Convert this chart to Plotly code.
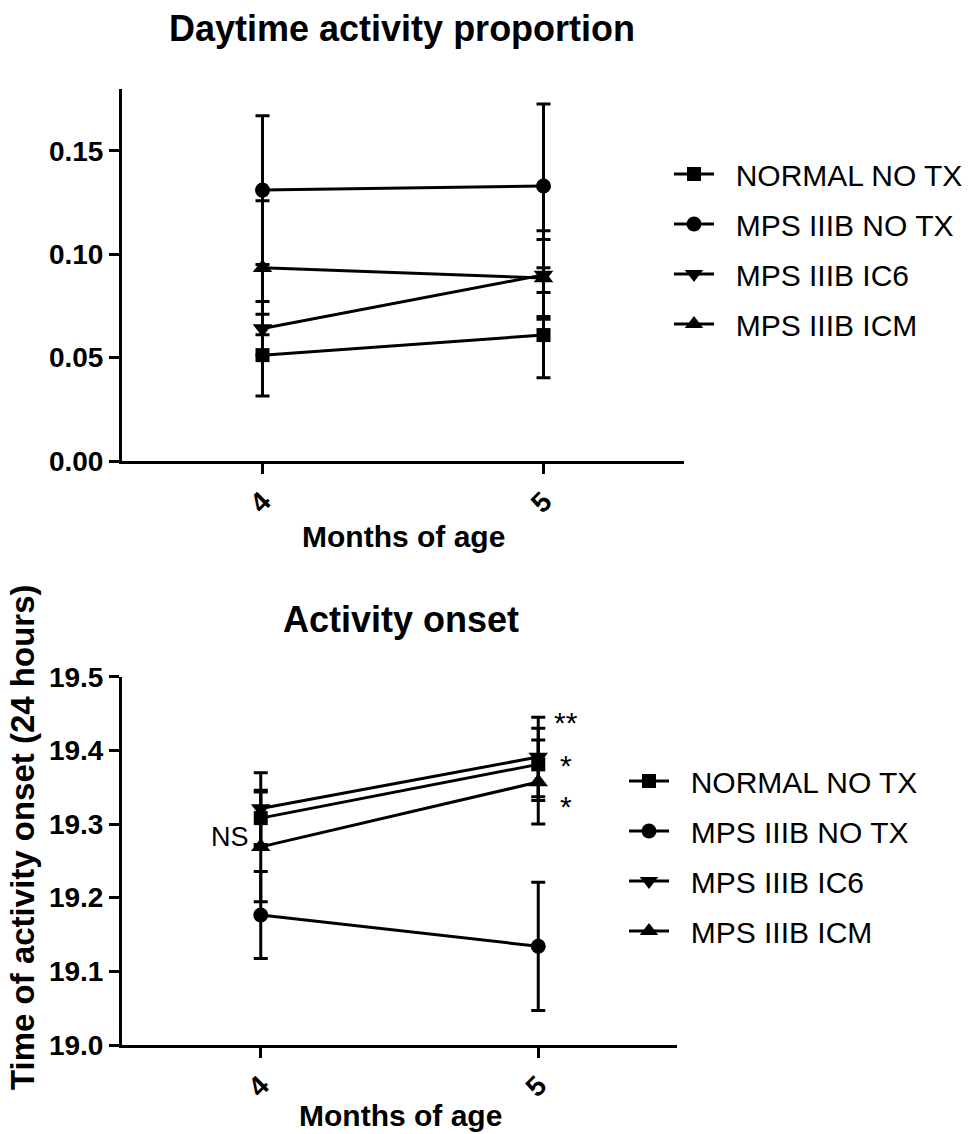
import plotly.graph_objects as go

W, H = 972, 1134

months = [4, 5]
series_names = ["NORMAL NO TX", "MPS IIIB NO TX", "MPS IIIB IC6", "MPS IIIB ICM"]
symbols = ["square", "circle", "triangle-down", "triangle-up"]
marker_sizes = [14, 15, 17, 17]

# Daytime activity proportion (mean, SEM)
day_normal = [0.0512, 0.0609]
day_normal_err = [0.0198, 0.0206]
day_mps = [0.131, 0.133]
day_mps_err = [0.036, 0.0396]
day_ic6 = [0.0641, 0.090]
day_ic6_err = [0.013, 0.0214]
day_icm = [0.0934, 0.0885]
day_icm_err = [0.0324, 0.0186]

# Activity onset (mean, SEM)
on_normal = [19.308, 19.381]
on_normal_err = [0.038, 0.049]
on_mps = [19.1765, 19.134]
on_mps_err = [0.059, 0.087]
on_ic6 = [19.321, 19.391]
on_ic6_err = [0.0487, 0.054]
on_icm = [19.269, 19.357]
on_icm_err = [0.0746, 0.057]

top_ticks = [0.00, 0.05, 0.10, 0.15]
bottom_ticks = [19.0, 19.1, 19.2, 19.3, 19.4, 19.5]

FONT = "Liberation Sans, Arial, sans-serif"
PAD = "\u00a0\u00a0"

fig = go.Figure()

top_vals = [(day_normal, day_normal_err), (day_mps, day_mps_err),
            (day_ic6, day_ic6_err), (day_icm, day_icm_err)]
bot_vals = [(on_normal, on_normal_err), (on_mps, on_mps_err),
            (on_ic6, on_ic6_err), (on_icm, on_icm_err)]

for panel, vals, xa, ya, lg in [("t", top_vals, "x", "y", "legend"),
                                 ("b", bot_vals, "x2", "y2", "legend2")]:
    for i, (name, sym) in enumerate(zip(series_names, symbols)):
        y, e = vals[i]
        fig.add_trace(go.Scatter(
            x=months, y=y, name=PAD + name, mode="lines+markers",
            line=dict(color="black", width=3),
            marker=dict(symbol=sym, size=marker_sizes[i], color="black"),
            error_y=dict(type="data", array=e, visible=True, color="black",
                         thickness=3, width=7),
            xaxis=xa, yaxis=ya, legend=lg, legendgroup="%s%d" % (panel, i),
        ))

def px_x(p):
    return p / W

def px_y(p):
    return 1 - p / H

axis_common = dict(showline=True, linecolor="black", linewidth=3,
                   ticks="outside", tickcolor="black", tickwidth=3, ticklen=10,
                   showgrid=False, zeroline=False, automargin=False,
                   tickfont=dict(family=FONT, size=28, color="black", weight="bold"))

legend_common = dict(xanchor="left", yanchor="top",
                     font=dict(family=FONT, size=30, color="black"),
                     itemwidth=40, tracegroupgap=8, bgcolor="rgba(0,0,0,0)")

fig.update_layout(
    width=W, height=H,
    margin=dict(l=0, r=0, t=0, b=0, autoexpand=False),
    paper_bgcolor="white", plot_bgcolor="white",
    font=dict(family=FONT, color="black"),
    xaxis=dict(domain=[px_x(122), px_x(684)], range=[3.5, 5.5],
               tickvals=months, ticktext=[str(m) for m in months], tickangle=-45,
               anchor="y", **axis_common),
    yaxis=dict(domain=[px_y(461), px_y(88.8)], range=[0, 0.18],
               tickvals=top_ticks, tickformat=".2f", anchor="x", **axis_common),
    xaxis2=dict(domain=[px_x(122), px_x(677)], range=[3.5, 5.5],
                tickvals=months, ticktext=[str(m) for m in months], tickangle=-45,
                anchor="y2", **axis_common),
    yaxis2=dict(domain=[px_y(1045), px_y(676.7)], range=[19.0, 19.5],
                tickvals=bottom_ticks, tickformat=".1f", anchor="x2", **axis_common),
    legend=dict(x=px_x(669), y=px_y(148), **legend_common),
    legend2=dict(x=px_x(624), y=px_y(755), **legend_common),
)

bold = dict(family=FONT, color="black", weight="bold")
reg = dict(family=FONT, color="black")
def a(text, x, y, size, style, xref="paper", yref="paper", angle=0):
    return dict(text=text, x=x, y=y, xref=xref, yref=yref, showarrow=False,
                xanchor="center", yanchor="middle", textangle=angle,
                font=dict(size=size, **style))

ann = [
    a("Daytime activity proportion", px_x(402), px_y(28), 36, bold),
    a("Activity onset", px_x(401), px_y(619), 36, bold),
    a("Months of age", px_x(403), px_y(537), 30, bold),
    a("Months of age", px_x(400), px_y(1115), 30, bold),
    a("Time of activity onset (24 hours)", px_x(22), px_y(837), 33, bold, angle=-90),
    a("**", 5.10, 19.438, 30, reg, "x2", "y2"),
    a("*", 5.10, 19.379, 30, reg, "x2", "y2"),
    a("*", 5.10, 19.324, 30, reg, "x2", "y2"),
    a("NS", 3.888, 19.282, 27, reg, "x2", "y2"),
]
fig.update_layout(annotations=ann)

fig.write_html(
    "out.html",
    config={"displayModeBar": False},
    post_script="document.body.style.margin='0';document.body.style.overflow='hidden';",
)
